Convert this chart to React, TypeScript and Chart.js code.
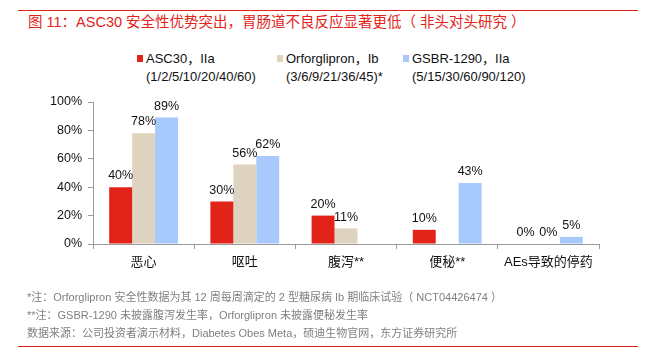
import React, { useEffect, useRef } from "react";
import { Chart, registerables } from "chart.js";

Chart.register(...registerables);

const categories = ["恶心", "呕吐", "腹泻**", "便秘**", "AEs导致的停药"];
const asc30 = [40, 30, 20, 10, 0];
const orforglipron = [78, 56, 11, null, 0];
const gsbr = [89, 62, null, 43, 5];
const yTicks = [0, 20, 40, 60, 80, 100];

const seriesNames = ["ASC30，IIa", "Orforglipron，Ib", "GSBR-1290，IIa"];
const seriesDoses = ["(1/2/5/10/20/40/60)", "(3/6/9/21/36/45)*", "(5/15/30/60/90/120)"];
const colors = ["#E2231A", "#DDD3BE", "#A7C9FB"];

const title = "图 11：ASC30 安全性优势突出，胃肠道不良反应显著更低（ 非头对头研究 ）";
const notes = [
  "*注：Orforglipron 安全性数据为其 12 周每周滴定的 2 型糖尿病 Ib 期临床试验（ NCT04426474 ）",
  "**注：GSBR-1290 未披露腹泻发生率，Orforglipron 未披露便秘发生率",
  "数据来源：公司投资者演示材料，Diabetes Obes Meta，硕迪生物官网，东方证券研究所",
];

const FONT = '"Liberation Sans", Arial, "Noto Sans CJK SC", sans-serif';

const labelPlugin = {
  id: "barLabels",
  afterDatasetsDraw(chart: any) {
    const ctx = chart.ctx;
    ctx.save();
    ctx.font = `12.5px ${FONT}`;
    ctx.fillStyle = "#111";
    ctx.textAlign = "center";
    ctx.textBaseline = "bottom";
    chart.data.datasets.forEach((ds: any, i: number) => {
      const meta = chart.getDatasetMeta(i);
      meta.data.forEach((el: any, j: number) => {
        const v = ds.data[j];
        if (v === null || v === undefined) return;
        ctx.fillText(v + "%", el.x, el.y - 5);
      });
    });
    ctx.restore();
  },
};

export default function App() {
  const ref = useRef<HTMLCanvasElement>(null);
  useEffect(() => {
    const chart = new Chart(ref.current!, {
      type: "bar",
      data: {
        labels: categories,
        datasets: [
          { label: seriesNames[0], data: asc30, backgroundColor: colors[0] },
          { label: seriesNames[1], data: orforglipron, backgroundColor: colors[1] },
          { label: seriesNames[2], data: gsbr, backgroundColor: colors[2] },
        ],
      },
      options: {
        animation: false,
        responsive: false,
        datasets: { bar: { categoryPercentage: 0.68, barPercentage: 1 } },
        layout: { padding: { left: 43, right: 54, top: 102, bottom: 83 } },
        plugins: { legend: { display: false }, tooltip: { enabled: false } },
        scales: {
          x: {
            grid: { display: true, drawOnChartArea: false, drawTicks: true, tickLength: 5, color: "#999" },
            border: { display: true, color: "#999" },
            ticks: { color: "#111", font: { size: 13, family: FONT }, padding: 6 },
            afterFit(scale: any) { scale.height = 30; },
          },
          y: {
            min: 0,
            max: 100,
            afterBuildTicks(scale: any) { scale.ticks = yTicks.map((v) => ({ value: v })); },
            grid: { display: true, drawOnChartArea: false, drawTicks: true, tickLength: 5, color: "#999" },
            border: { display: true, color: "#999" },
            ticks: { color: "#111", font: { size: 12.5, family: FONT }, padding: 6, callback: (v: any) => v + "%" },
            afterFit(scale: any) { scale.width = 50; },
          },
        },
      },
      plugins: [labelPlugin],
    });
    return () => chart.destroy();
  }, []);

  const lefts = [137, 277, 403];
  return (
    <div style={{ position: "absolute", left: 0, top: 0, width: 653, height: 357, background: "#fff", fontFamily: FONT, overflow: "hidden" }}>
      <div style={{ position: "absolute", left: 18, top: 10, width: 620, height: 1, background: "#E2231A" }} />
      <div style={{ position: "absolute", left: 28, top: 12, fontSize: 14.5, color: "#E2231A", whiteSpace: "nowrap", lineHeight: "20px" }}>{title}</div>
      {seriesNames.map((n, i) => (
        <div key={i} style={{ position: "absolute", left: lefts[i], top: 50, fontSize: 13, color: "#111", lineHeight: "18px", whiteSpace: "nowrap" }}>
          <div><span style={{ display: "inline-block", width: 6, height: 7, background: colors[i], marginRight: 3, verticalAlign: "1px" }} />{n}</div>
          <div style={{ paddingLeft: 9 }}>{seriesDoses[i]}</div>
        </div>
      ))}
      <canvas ref={ref} width={653} height={357} style={{ position: "absolute", left: 0, top: 0 }} />
      {notes.map((t, i) => (
        <div key={i} style={{ position: "absolute", left: 27, top: 290 + i * 18, fontSize: 11, color: "#808080", whiteSpace: "nowrap", lineHeight: "15px" }}>{t}</div>
      ))}
      <div style={{ position: "absolute", left: 18, top: 346, width: 620, height: 1, background: "#E2231A" }} />
    </div>
  );
}
